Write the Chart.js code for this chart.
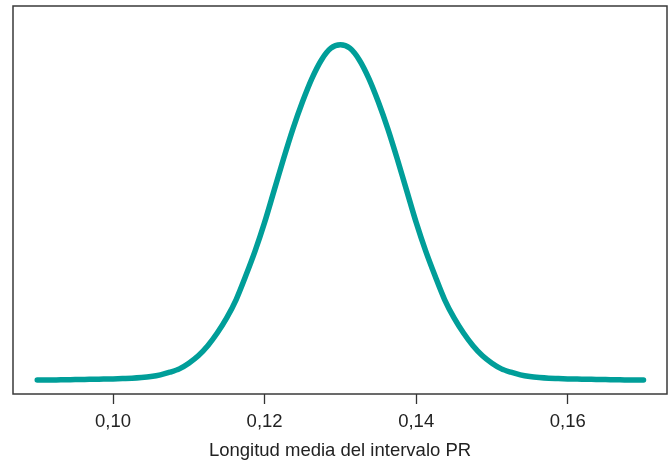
<!DOCTYPE html>
<html>
<head>
<meta charset="utf-8">
<script src="https://cdn.jsdelivr.net/npm/chart.js@4/dist/chart.umd.min.js"></script>
<style>
  html, body { margin: 0; padding: 0; background: #fff; }
  #wrap { width: 672px; height: 462px; }
</style>
</head>
<body>
<div id="wrap"><canvas id="myChart"></canvas></div>
<script>
// longitud media del intervalo PR (s), paso 0,00125
var prLength = [0.09000, 0.09125, 0.09250, 0.09375, 0.09500, 0.09625, 0.09750, 0.09875,
  0.10000, 0.10125, 0.10250, 0.10375, 0.10500, 0.10625, 0.10750, 0.10875,
  0.11000, 0.11125, 0.11250, 0.11375, 0.11500, 0.11625, 0.11750, 0.11875,
  0.12000, 0.12125, 0.12250, 0.12375, 0.12500, 0.12625, 0.12750, 0.12875,
  0.13000, 0.13125, 0.13250, 0.13375, 0.13500, 0.13625, 0.13750, 0.13875,
  0.14000, 0.14125, 0.14250, 0.14375, 0.14500, 0.14625, 0.14750, 0.14875,
  0.15000, 0.15125, 0.15250, 0.15375, 0.15500, 0.15625, 0.15750, 0.15875,
  0.16000, 0.16125, 0.16250, 0.16375, 0.16500, 0.16625, 0.16750, 0.16875,
  0.17000]
// altura relativa de la curva (pico = 100)
var density = [0.0, 0.0, 0.0, 0.05, 0.1, 0.15, 0.2, 0.25,
  0.3, 0.4, 0.5, 0.7, 1.0, 1.5, 2.3, 3.3,
  5.0, 7.2, 10.2, 14, 18.5, 24, 31, 38.5,
  47, 56.5, 66, 75, 83, 90, 95.5, 99,
  100, 99, 95.5, 90, 83, 75, 66, 56.5,
  47, 38.5, 31, 24, 18.5, 14, 10.2, 7.2,
  5.0, 3.3, 2.3, 1.5, 1.0, 0.7, 0.5, 0.4,
  0.3, 0.25, 0.2, 0.15, 0.1, 0.05, 0.0, 0.0,
  0.0]
var tickValues = [0.10, 0.12, 0.14, 0.16]
var tickLabels = ["0,10", "0,12", "0,14", "0,16"]

main()

function main() {
  var points = []
  for (var i in prLength) {
    points.push({ x: prLength[i], y: density[i] })
  }
  drawChart(points)
}

function drawChart(points) {
  var ctx = document.getElementById("myChart")

  // marco alrededor del area del grafico
  var boxPlugin = {
    id: "box",
    afterDatasetsDraw: function(chart) {
      var a = chart.chartArea
      var c = chart.ctx
      c.save()
      c.strokeStyle = "#3a3a3a"
      c.lineWidth = 1.5
      c.strokeRect(a.left, a.top, a.right - a.left, a.bottom - a.top)
      c.restore()
    }
  }

  new Chart(ctx, {
    type: "line",
    data: {
      datasets: [{
        data: points,
        borderColor: "#009e99",
        borderWidth: 5.5,
        borderCapStyle: "round",
        borderJoinStyle: "round",
        pointRadius: 0,
        fill: false,
        tension: 0.3
      }]
    },
    options: {
      responsive: true,
      maintainAspectRatio: false,
      animation: false,
      layout: { padding: { left: 13, right: 5, top: 6, bottom: 0 } },
      plugins: { legend: { display: false }, tooltip: { enabled: false } },
      scales: {
        x: {
          type: "linear",
          min: 0.0868,
          max: 0.1731,
          afterBuildTicks: function(scale) {
            scale.ticks = tickValues.map(function(v) { return { value: v } })
          },
          afterFit: function(scale) { scale.height = 68 },
          grid: {
            drawOnChartArea: false,
            tickLength: 10,
            tickWidth: 1.3,
            tickColor: "#333"
          },
          border: { display: false },
          ticks: {
            color: "#222",
            padding: 7,
            maxRotation: 0,
            font: { family: "Liberation Sans, Arial, sans-serif", size: 18.5 },
            callback: function(v) {
              var k = tickValues.indexOf(Math.round(v * 100) / 100)
              return k >= 0 ? tickLabels[k] : ""
            }
          },
          title: {
            display: true,
            text: "Longitud media del intervalo PR",
            color: "#222",
            padding: { top: 0, bottom: 0 },
            font: { family: "Liberation Sans, Arial, sans-serif", size: 18.5 }
          }
        },
        y: {
          display: false,
          min: -4.2,
          max: 111.6
        }
      }
    },
    plugins: [boxPlugin]
  })
}
</script>
</body>
</html>
